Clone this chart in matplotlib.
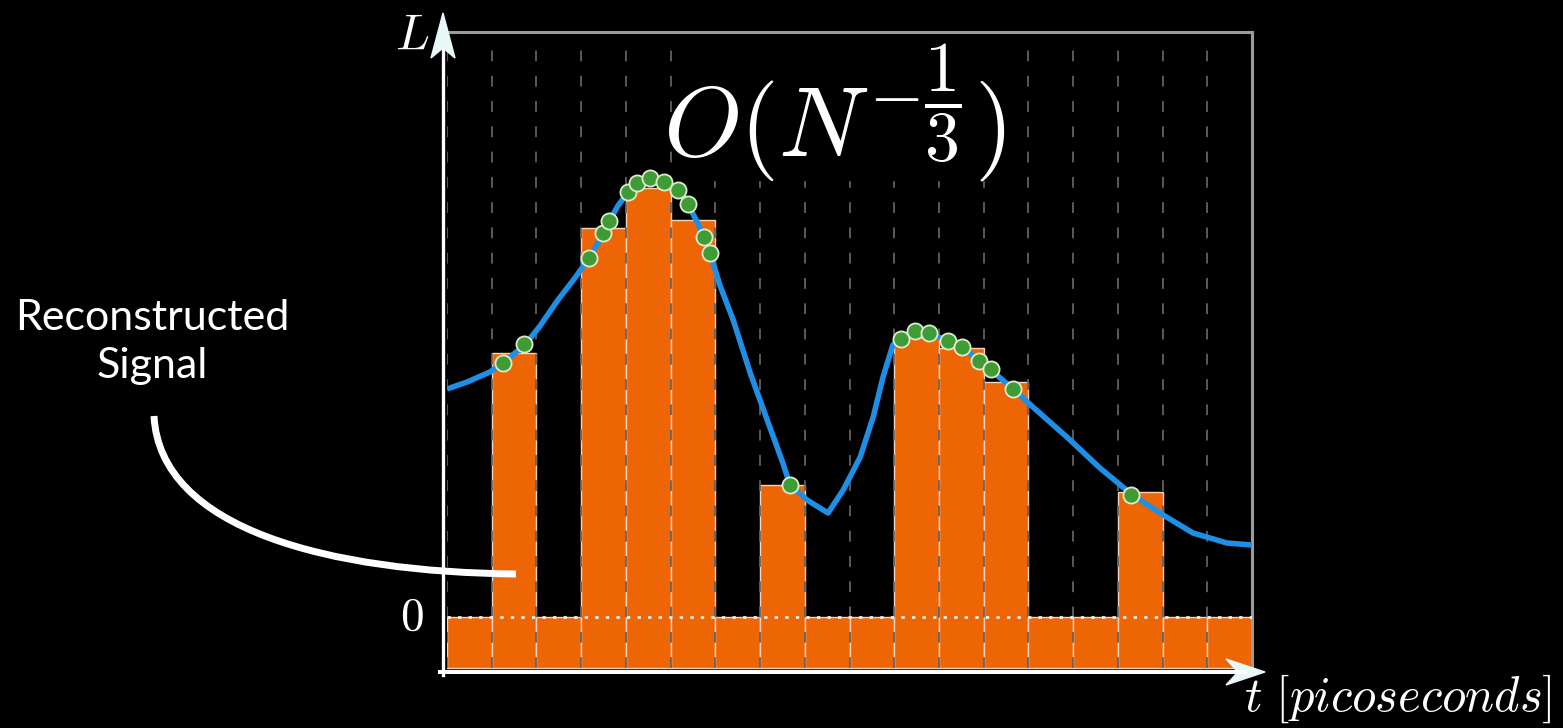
import matplotlib
matplotlib.use("Agg")
import matplotlib.pyplot as plt
from matplotlib.patches import Polygon, PathPatch, Rectangle
from matplotlib.path import Path
from matplotlib.lines import Line2D
from matplotlib.transforms import Affine2D

# Histogram bins (time measured in bin widths) and reconstructed bar heights
bin_edges = list(range(19))
bar_heights = [0, 2.64, 0, 3.89, 4.29, 3.97, 0, 1.32, 0, 0,
               2.80, 2.69, 2.35, 0, 0, 1.25, 0, 0]
bar_floor = -0.51

# Underlying signal L(t)
signal_t = [0.00, 0.45, 0.96, 1.25, 1.74, 2.08, 2.48, 2.86, 3.18, 3.49,
            3.62, 3.82, 4.05, 4.25, 4.54, 4.85, 5.17, 5.39, 5.59, 5.75,
            5.88, 6.10, 6.40, 6.78, 7.16, 7.51, 7.67, 8.05, 8.52, 8.86,
            9.24, 9.53, 9.75, 9.97, 10.17, 10.47, 10.78, 11.20, 11.52, 11.90,
            12.16, 12.66, 13.10, 13.86, 14.60, 15.30, 15.94, 16.68, 17.44, 18.00]
signal_L = [2.28, 2.35, 2.45, 2.54, 2.72, 2.91, 3.17, 3.39, 3.59, 3.83,
            3.95, 4.11, 4.25, 4.33, 4.39, 4.35, 4.27, 4.13, 3.95, 3.80,
            3.64, 3.32, 2.97, 2.44, 1.97, 1.54, 1.32, 1.17, 1.04, 1.27,
            1.60, 2.00, 2.40, 2.72, 2.79, 2.86, 2.84, 2.76, 2.70, 2.56,
            2.47, 2.28, 2.10, 1.80, 1.49, 1.23, 1.04, 0.84, 0.74, 0.72]

# Sampled photon arrivals
sample_t = [1.25, 1.72, 3.18, 3.49, 3.62, 4.05, 4.25, 4.54, 4.85, 5.17,
            5.39, 5.75, 5.88, 7.67, 10.15, 10.47, 10.78, 11.20, 11.52, 11.90,
            12.16, 12.66, 15.30]
sample_L = [2.54, 2.73, 3.59, 3.84, 3.96, 4.25, 4.34, 4.39, 4.35, 4.27,
            4.13, 3.80, 3.64, 1.32, 2.78, 2.86, 2.84, 2.76, 2.70, 2.56,
            2.48, 2.28, 1.22]

W, H = 1563, 728
plt.rcParams['mathtext.fontset'] = 'cm'
fig = plt.figure(figsize=(W / 100, H / 100), dpi=100, facecolor='black')
pix = Affine2D().scale(1 / W, -1 / H).translate(0, 1) + fig.transFigure

x0, x1, y_top, y_bot = 447, 1252, 32, 672
ax = fig.add_axes([x0 / W, (H - y_bot) / H, (x1 - x0) / W, (y_bot - y_top) / H])
ax.set_facecolor('black')
ax.set_xlim(0, 18)
ax.set_ylim(-0.55, 5.85)
ax.set_xticks([])
ax.set_yticks([])
for side in ('left', 'bottom'):
    ax.spines[side].set_visible(False)
for side in ('top', 'right'):
    ax.spines[side].set_color('#9b9b9b')
    ax.spines[side].set_linewidth(2.2)

# bars
ax.bar(bin_edges[:-1], [h - bar_floor for h in bar_heights], width=1,
       bottom=bar_floor, align='edge', color='#ee6506', edgecolor='#f5d3bd',
       linewidth=1.0, zorder=2)

# dashed bin separators
ax.vlines(bin_edges[:-1], bar_floor, 5.70, colors='#616161', linewidth=1.3,
          linestyles=(0, (6, 8)), zorder=3)

# zero level
ax.hlines(0, 0, 18, colors='#f4efe8', linewidth=2.0,
          linestyles=(0, (1.2, 2.6)), zorder=4)

# signal and samples
ax.plot(signal_t, signal_L, color='#1f8fe5', lw=4.0, zorder=5,
        solid_joinstyle='round', solid_capstyle='butt')
ax.scatter(sample_t, sample_L, s=135, c='#3f9c35', edgecolors='#dcebcc',
           linewidths=1.3, zorder=6)

# axis arrows
fig.add_artist(Line2D([443, 443], [675, 50], color='white', lw=2.4, transform=pix))
fig.add_artist(Polygon([[443, 13], [431, 58], [443, 48], [455, 58]], closed=True,
                       color='#e8f8f8', transform=pix))
fig.add_artist(Line2D([440, 1245], [672, 672], color='white', lw=2.9, transform=pix))
fig.add_artist(Polygon([[1265, 672], [1226, 659], [1238, 672], [1226, 685]], closed=True,
                       color='#e8f8f8', transform=pix))

# axis labels
fig.text(412, 35, r'$L$', color='white', fontsize=36, ha='center', va='center',
         transform=pix)
fig.text(412, 617, r'$0$', color='white', fontsize=34, ha='center', va='center',
         transform=pix)
fig.text(1244, 711, r'$t\ [picoseconds]$', color='white', fontsize=35,
         ha='left', va='baseline', transform=pix)

# convergence rate
fig.add_artist(Rectangle((682, 40), 316, 140, color='black', transform=pix, zorder=2))
fig.text(834, 113, r'$O(N^{-\dfrac{1}{3}})$', color='white', fontsize=72,
         ha='center', va='center', transform=pix, zorder=3)

# callout
fig.text(152, 342, 'Reconstructed\nSignal', color='white', fontsize=31,
         family='Lato', ha='center', va='center', multialignment='center',
         linespacing=1.35, transform=pix)
callout = Path([(154, 416), (160, 530), (330, 572), (516, 574)],
               [Path.MOVETO, Path.CURVE4, Path.CURVE4, Path.CURVE4])
fig.add_artist(PathPatch(callout, facecolor='none', edgecolor='white', lw=5,
                         capstyle='butt', transform=pix))

fig.savefig('out.png', dpi=100, facecolor='black')
